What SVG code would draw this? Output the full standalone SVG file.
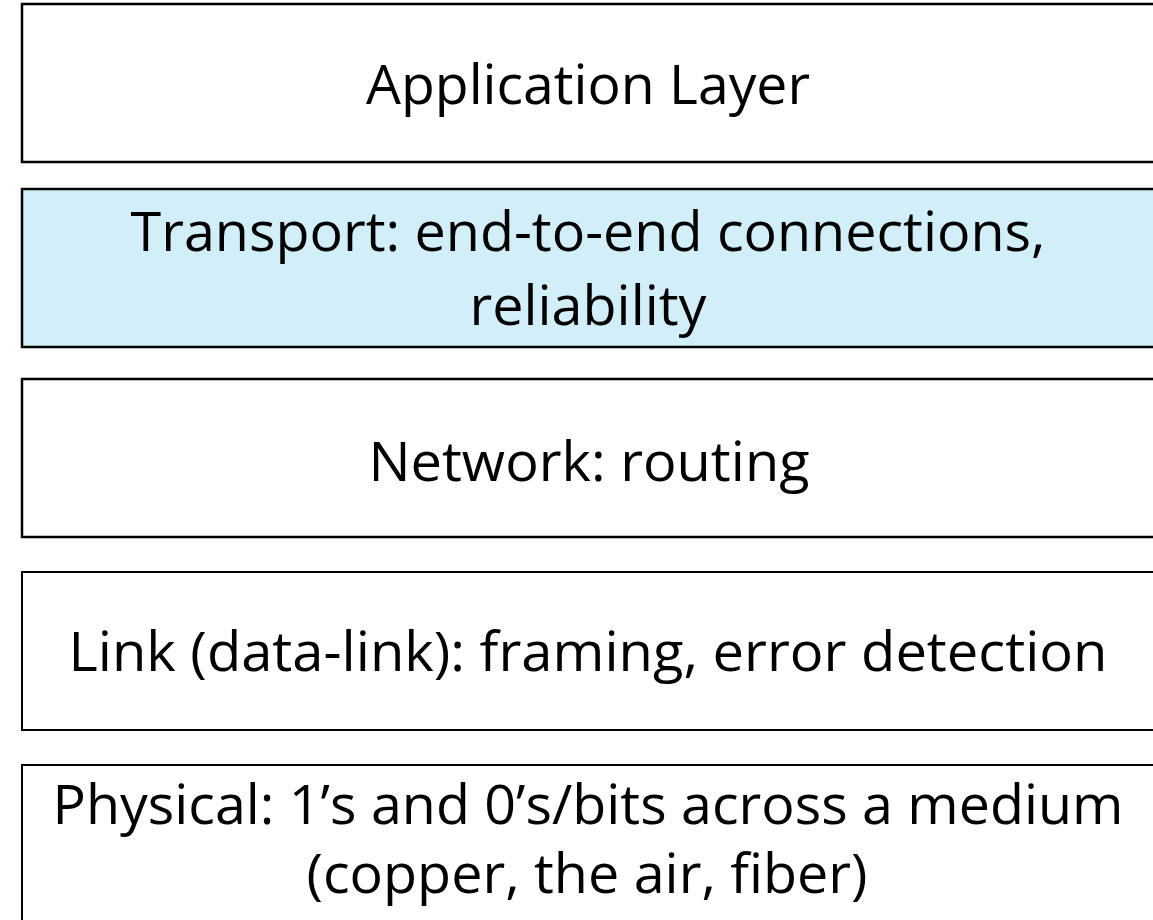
<svg xmlns="http://www.w3.org/2000/svg" width="1153" height="920" viewBox="0 0 1153 920">
  <style>
    .layer { fill: #ffffff; stroke: #000000; stroke-width: 2.5; }
    .layer.thin { stroke-width: 2; }
    .layer.transport { fill: #d2eef8; }
    .label { font-family: "Open Sans", "Noto Sans", "Liberation Sans", sans-serif; font-size: 55px; fill: #000000; text-anchor: middle; }
  </style>
  <rect width="1153" height="920" fill="#ffffff"/>

  <g id="application">
    <rect class="layer" x="22" y="4" width="1150" height="158"/>
    <text class="label" x="588" y="104" textLength="444" lengthAdjust="spacingAndGlyphs">Application Layer</text>
  </g>

  <g id="transport">
    <rect class="layer transport" x="22" y="189" width="1150" height="158"/>
    <text class="label" x="588" y="251" textLength="915" lengthAdjust="spacingAndGlyphs">Transport: end-to-end connections,</text>
    <text class="label" x="588" y="325" textLength="237" lengthAdjust="spacingAndGlyphs">reliability</text>
  </g>

  <g id="network">
    <rect class="layer" x="22" y="379" width="1150" height="158"/>
    <text class="label" x="589" y="481" textLength="441" lengthAdjust="spacingAndGlyphs">Network: routing</text>
  </g>

  <g id="link">
    <rect class="layer thin" x="22" y="572" width="1150" height="158"/>
    <text class="label" x="588" y="671" textLength="1039" lengthAdjust="spacingAndGlyphs">Link (data-link): framing, error detection</text>
  </g>

  <g id="physical">
    <rect class="layer thin" x="22" y="765" width="1150" height="170"/>
    <text class="label" x="588" y="824" textLength="1071" lengthAdjust="spacingAndGlyphs">Physical: 1’s and 0’s/bits across a medium</text>
    <text class="label" x="587" y="893" textLength="561" lengthAdjust="spacingAndGlyphs">(copper, the air, fiber)</text>
  </g>

  <g id="connectors"/>
</svg>
